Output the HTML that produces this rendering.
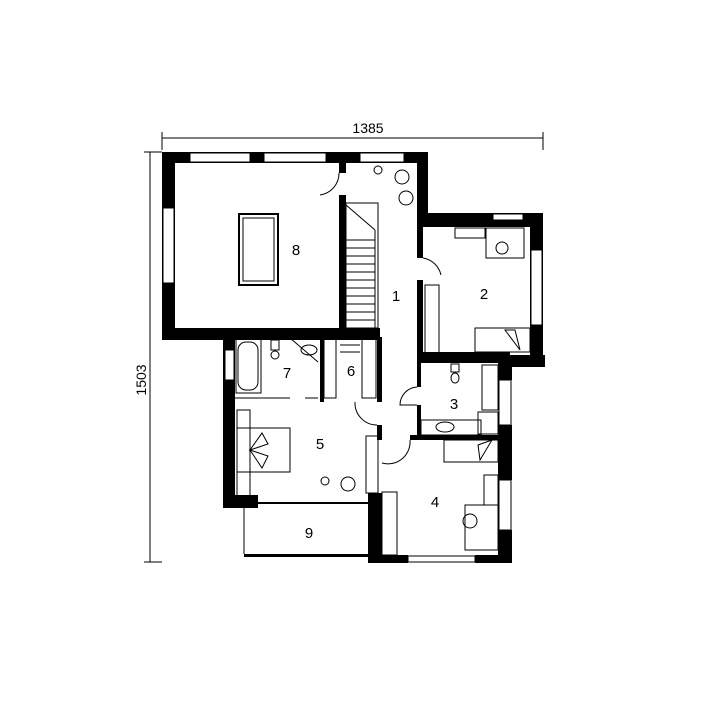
<!DOCTYPE html>
<html><head><meta charset="utf-8"><style>html,body{margin:0;padding:0;background:#fff}svg{display:block}</style></head>
<body>
<svg width="720" height="720" viewBox="0 0 720 720" xmlns="http://www.w3.org/2000/svg" font-family="Liberation Sans, sans-serif">
<rect width="720" height="720" fill="#fff"/>
<!-- dimensions -->
<line x1="162" y1="138" x2="543" y2="138" stroke="#000" stroke-width="1"/>
<line x1="162" y1="132" x2="162" y2="150" stroke="#000"/>
<line x1="543" y1="132" x2="543" y2="150" stroke="#000"/>
<text x="368" y="133" font-size="14" text-anchor="middle">1385</text>
<line x1="150" y1="152" x2="150" y2="562" stroke="#000"/>
<line x1="144" y1="152" x2="162" y2="152" stroke="#000"/>
<line x1="144" y1="562" x2="162" y2="562" stroke="#000"/>
<text x="0" y="0" font-size="14" text-anchor="middle" transform="translate(146,380) rotate(-90)">1503</text>
<g fill="#000">
<!-- top wall -->
<rect x="162" y="152" width="266" height="11"/>
<rect x="162" y="152" width="13" height="188"/>
<rect x="162" y="328" width="218" height="12"/>
<rect x="339" y="163" width="7" height="10"/>
<rect x="339" y="195" width="7" height="135"/>
<rect x="417" y="152" width="11" height="62"/>
<rect x="417" y="213" width="126" height="14"/>
<rect x="530" y="213" width="13" height="154"/>
<rect x="498" y="355" width="47" height="12"/>
<rect x="417" y="227" width="6" height="31"/>
<rect x="417" y="280" width="6" height="83"/>
<rect x="417" y="352" width="93" height="11"/>
<rect x="417" y="363" width="4" height="24"/>
<rect x="417" y="405" width="4" height="32"/>
<rect x="498" y="363" width="14" height="17"/>
<rect x="498" y="425" width="14" height="55"/>
<rect x="498" y="530" width="14" height="33"/>
<rect x="410" y="435" width="90" height="5"/>
<rect x="223" y="328" width="12" height="180"/>
<rect x="223" y="495" width="35" height="13"/>
<rect x="320" y="337" width="4" height="65"/>
<rect x="377" y="337" width="5" height="65"/>
<rect x="377" y="425" width="5" height="15"/>
<rect x="368" y="493" width="14" height="70"/>
<rect x="368" y="555" width="40" height="8"/>
<rect x="475" y="555" width="37" height="8"/>
<rect x="244" y="554" width="126" height="3"/>
<rect x="244" y="502" width="126" height="2"/>
</g>
<!-- windows -->
<g fill="#fff" stroke="#000" stroke-width="1">
<rect x="190" y="153" width="60" height="9"/>
<rect x="264" y="153" width="62" height="9"/>
<rect x="360" y="153" width="44" height="9"/>
<rect x="163" y="208" width="11" height="75"/>
<rect x="531" y="250" width="11" height="75"/>
<rect x="225" y="350" width="9" height="30"/>
<rect x="499" y="380" width="12" height="45"/>
<rect x="499" y="480" width="12" height="50"/>
<rect x="408" y="556" width="67" height="6"/>
<line x1="244" y1="504" x2="244" y2="554"/>
<rect x="493" y="214" width="30" height="6"/>
</g>
<!-- stairs -->
<g stroke="#000" fill="none" stroke-width="1">
<rect x="346" y="203" width="32" height="125"/>
<line x1="346" y1="205" x2="375" y2="230"/>
<path d="M346 240 H375 M346 248 H375 M346 256 H375 M346 264 H375 M346 272 H375 M346 280 H375 M346 288 H375 M346 296 H375 M346 304 H375 M346 312 H375 M346 320 H375"/>
<line x1="375" y1="230" x2="375" y2="328"/>
<!-- billiard -->
<rect x="239" y="214" width="39" height="71" stroke-width="2"/>
<rect x="243" y="218" width="31" height="63"/>
<circle cx="378" cy="170" r="4"/><circle cx="402" cy="177" r="7"/><circle cx="406" cy="198" r="7"/>
<!-- doors -->
<path d="M339 173 A22 22 0 0 1 320 195"/>
<path d="M423 258 A22 22 0 0 1 441 275"/>
<path d="M417 387 A18 18 0 0 0 400 405 H417"/>
<path d="M355 402 A22 22 0 0 0 377 425"/>
<path d="M382 463 A22 22 0 0 0 410 440"/>
<!-- bathroom 7 -->
<rect x="236" y="338" width="25" height="55"/>
<rect x="238" y="342" width="20" height="48" rx="8"/>
<line x1="235" y1="398" x2="290" y2="398"/><line x1="305" y1="398" x2="318" y2="398"/>
<path d="M290 338 L318 362"/>
<ellipse cx="309" cy="350" rx="8" ry="5"/>
<rect x="271" y="340" width="8" height="10"/><circle cx="275" cy="355" r="4"/>
<!-- wardrobe 6 -->
<rect x="324" y="338" width="12" height="60"/><rect x="362" y="338" width="14" height="60"/>
<path d="M340 345 H360 M340 352 H360"/>
<!-- room 2 -->
<rect x="425" y="285" width="14" height="70"/>
<rect x="455" y="228" width="30" height="10"/>
<rect x="486" y="228" width="38" height="30"/>
<circle cx="502" cy="248" r="6"/>
<rect x="475" y="328" width="55" height="24"/>
<path d="M505 330 L520 350 L515 330 Z"/>
<!-- room 3 -->
<rect x="482" y="365" width="16" height="45"/>
<rect x="478" y="412" width="20" height="22"/>
<rect x="421" y="420" width="60" height="15"/>
<ellipse cx="445" cy="427" rx="9" ry="5"/>
<rect x="451" y="364" width="8" height="8"/><ellipse cx="455" cy="378" rx="4" ry="5"/>
<!-- room 5 -->
<rect x="237" y="410" width="13" height="92"/>
<rect x="237" y="428" width="53" height="44"/>
<path d="M250 450 L262 433 L268 444 Z M250 450 L262 468 L268 456 Z"/>
<circle cx="325" cy="481" r="4"/><circle cx="348" cy="484" r="7"/>
<rect x="366" y="436" width="12" height="57"/>
<!-- room 4 -->
<rect x="382" y="492" width="15" height="63"/>
<rect x="444" y="440" width="54" height="22"/>
<path d="M478 445 L492 440 L480 460 Z"/>
<rect x="484" y="475" width="14" height="30"/>
<rect x="465" y="505" width="33" height="45"/>
<circle cx="470" cy="521" r="7"/>
</g>
<g font-size="15" text-anchor="middle">
<text x="296" y="255">8</text><text x="396" y="301">1</text><text x="484" y="299">2</text>
<text x="287" y="378">7</text><text x="351" y="376">6</text><text x="454" y="409">3</text>
<text x="320" y="449">5</text><text x="435" y="507">4</text><text x="309" y="538">9</text>
</g>
</svg>
</body></html>
